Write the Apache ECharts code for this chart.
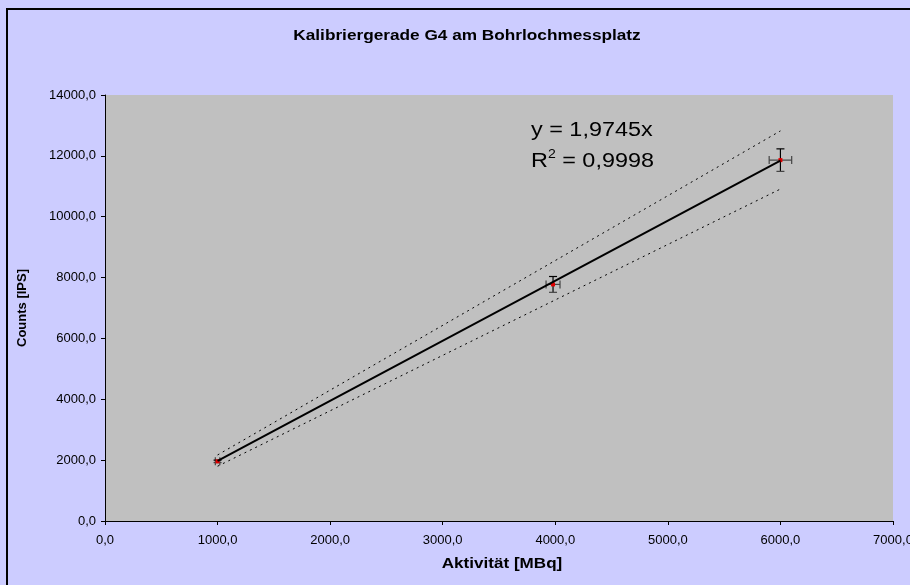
<!DOCTYPE html>
<html><head><meta charset="utf-8">
<script src="https://cdn.jsdelivr.net/npm/echarts@6/dist/echarts.min.js"></script>
<style>html,body{margin:0;padding:0;background:#CCCCFF}#c{width:910px;height:585px}</style>
</head><body><div id="c"></div>
<script>
// Data
const activity = [1000, 3980, 6000];            // MBq
const counts = [1960, 7775, 11860];              // IPS
const errX = [20, 62, 100];
const errY = [40, 260, 370];
const trendX = [1000, 6000];
const trendY = [1974.5, 11847];
const upperY = [2170, 12820];
const lowerY = [1800, 10910];
const xTicks = [0, 1000, 2000, 3000, 4000, 5000, 6000, 7000];
const yTicks = [0, 2000, 4000, 6000, 8000, 10000, 12000, 14000];
const titleText = 'Kalibriergerade G4 am Bohrlochmessplatz';
const xName = 'Aktivität [MBq]';
const yName = 'Counts [IPS]';
const eqLine1 = 'y = 1,9745x';
const eqR2 = ' = 0,9998';

const fmt = v => v.toFixed(1).replace('.', ',');
const font = 'Liberation Sans, Arial, sans-serif';

const chart = echarts.init(document.getElementById('c'));
chart.setOption({
  backgroundColor: '#CCCCFF',
  animation: false,
  grid: { left: 105, right: 17, top: 95, bottom: 64, show: true, backgroundColor: '#C0C0C0', borderWidth: 0, containLabel: false, outerBoundsMode: 'none' },
  xAxis: {
    type: 'value', min: xTicks[0], max: xTicks[xTicks.length - 1], interval: 1000,
    axisLine: { show: true, onZero: false, lineStyle: { color: '#000', width: 1 } },
    axisTick: { show: true, inside: false, length: 4, lineStyle: { color: '#000' } },
    axisLabel: { formatter: fmt, fontFamily: font, fontSize: 13, color: '#000', margin: 13, showMaxLabel: true, hideOverlap: false },
    splitLine: { show: false }
  },
  yAxis: {
    type: 'value', min: yTicks[0], max: yTicks[yTicks.length - 1], interval: 2000,
    name: yName, nameLocation: 'middle', nameGap: 76,
    nameTextStyle: { fontFamily: font, fontSize: 13, fontWeight: 'bold', color: '#000' },
    axisLine: { show: true, onZero: false, lineStyle: { color: '#000', width: 1 } },
    axisTick: { show: true, inside: false, length: 4, lineStyle: { color: '#000' } },
    axisLabel: { formatter: fmt, fontFamily: font, fontSize: 13, color: '#000', margin: 9 },
    splitLine: { show: false }
  },
  series: [
    {
      type: 'line', data: trendX.map((x, i) => [x, upperY[i]]), symbol: 'none', silent: true,
      lineStyle: { color: '#000', width: 1, type: [2, 4] }
    },
    {
      type: 'line', data: trendX.map((x, i) => [x, lowerY[i]]), symbol: 'none', silent: true,
      lineStyle: { color: '#000', width: 1, type: [2, 4] }
    },
    {
      type: 'line', data: trendX.map((x, i) => [x, trendY[i]]), symbol: 'none', silent: true,
      lineStyle: { color: '#000', width: 2 }
    },
    {
      type: 'custom',
      data: activity.map((x, i) => [x, counts[i], errX[i], errY[i]]),
      renderItem: function (params, api) {
        const x = api.value(0), y = api.value(1), ex = api.value(2), ey = api.value(3);
        const c = api.coord([x, y]);
        const l = api.coord([x - ex, y]), r = api.coord([x + ex, y]);
        const t = api.coord([x, y + ey]), b = api.coord([x, y - ey]);
        const cap = 4;
        const st = { stroke: '#000', lineWidth: 1.2 };
        const sg = { stroke: '#444', lineWidth: 1.2 };
        return {
          type: 'group', children: [
            { type: 'line', shape: { x1: l[0], y1: l[1], x2: r[0], y2: r[1] }, style: sg },
            { type: 'line', shape: { x1: l[0], y1: l[1] - cap, x2: l[0], y2: l[1] + cap }, style: sg },
            { type: 'line', shape: { x1: r[0], y1: r[1] - cap, x2: r[0], y2: r[1] + cap }, style: sg },
            { type: 'line', shape: { x1: t[0], y1: t[1], x2: b[0], y2: b[1] }, style: st },
            { type: 'line', shape: { x1: t[0] - cap, y1: t[1], x2: t[0] + cap, y2: t[1] }, style: st },
            { type: 'line', shape: { x1: b[0] - cap, y1: b[1], x2: b[0] + cap, y2: b[1] }, style: sg },
            { type: 'rect', shape: { x: c[0] - 2, y: c[1] - 2, width: 4, height: 4 }, style: { fill: '#E00000' } }
          ]
        };
      }
    }
  ],
  graphic: [
    { type: 'rect', x: 7, y: 9, shape: { width: 1000, height: 1000 }, style: { fill: 'none', stroke: '#000', lineWidth: 2 }, silent: true, z: 100 },
    {
      type: 'text', x: 467, y: 36, scaleX: 1.23, z: 50,
      style: { text: titleText, font: 'bold 14px ' + font, fill: '#000', align: 'center', verticalAlign: 'middle' }
    },
    {
      type: 'text', x: 502, y: 564, scaleX: 1.22, z: 50,
      style: { text: xName, font: 'bold 14px ' + font, fill: '#000', align: 'center', verticalAlign: 'middle' }
    },
    {
      type: 'text', x: 531, y: 140, scaleX: 1.17, z: 50,
      style: { text: eqLine1, font: '20px ' + font, fill: '#000', align: 'left', verticalAlign: 'bottom' }
    },
    {
      type: 'text', x: 531, y: 173, scaleX: 1.17, z: 50,
      style: {
        text: '{a|R}{s|2}{a|' + eqR2 + '}', font: '20px ' + font, fill: '#000', align: 'left', verticalAlign: 'bottom',
        rich: {
          a: { fontSize: 20, fontFamily: font, color: '#000', lineHeight: 24 },
          s: { fontSize: 12, fontFamily: font, color: '#000', verticalAlign: 'top', lineHeight: 24, padding: [0, 0, 13, 0] }
        }
      }
    }
  ]
});
</script></body></html>
